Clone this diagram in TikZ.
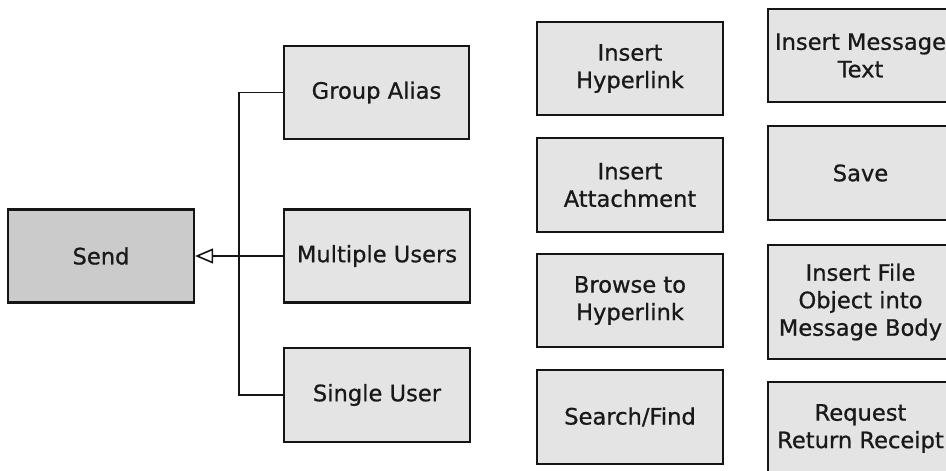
\documentclass[tikz,border=0pt]{standalone}
\usepackage{fontspec}
\setmainfont{DejaVu Sans}[FakeBold=0.8]
\usetikzlibrary{arrows.meta}
\definecolor{rootfill}{HTML}{CBCBCB}
\definecolor{leaffill}{HTML}{E4E4E4}
\definecolor{edge}{HTML}{151515}
\begin{document}
\begin{tikzpicture}[x=1pt,y=-1pt,
  box/.style={draw=edge, line width=2.2pt, fill=leaffill, align=center,
    minimum width=185pt, minimum height=93pt, inner sep=2pt,
    font=\fontsize{22.6}{27.5}\selectfont, text=black!90},
  rootbox/.style={box, fill=rootfill},
  link/.style={draw=edge, line width=1.6pt}]
\useasboundingbox (0,0) rectangle (946,471);
% generalisation tree
\node[rootbox, minimum width=186pt] (send) at (101,256) {Send};
\node[box] (ga) at (376.5,92.5) {Group Alias};
\node[box, minimum width=186pt] (mu) at (377,256) {Multiple Users};
\node[box, minimum width=186pt, minimum height=94pt] (su) at (377,395) {Single User};
\draw[link] (ga.west) -- ++(-44,0) |- (su.west);
\draw[link, -{Triangle[open, length=18pt, width=15pt, line width=1.6pt]}] (mu.west) -- (send.east);
% first column of functions
\node[box, minimum width=186pt] (ih) at (630,68.5) {Insert\\Hyperlink};
\node[box, minimum width=186pt, minimum height=94pt] (ia) at (630,185) {Insert\\Attachment};
\node[box, minimum width=186pt] (bh) at (630,300.5) {Browse to\\Hyperlink};
\node[box, minimum width=186pt, minimum height=94pt] (sf) at (630,417) {Search/Find};
% second column of functions
\node[box] (im) at (860.5,55.5) {Insert Message\\Text};
\node[box, minimum height=94pt] (sv) at (860.5,173) {Save};
\node[box, minimum height=114pt] (if) at (860.5,302) {Insert File\\Object into\\Message Body};
\node[box] (rr) at (860.5,428.5) {Request\\Return Receipt};
\end{tikzpicture}
\end{document}
